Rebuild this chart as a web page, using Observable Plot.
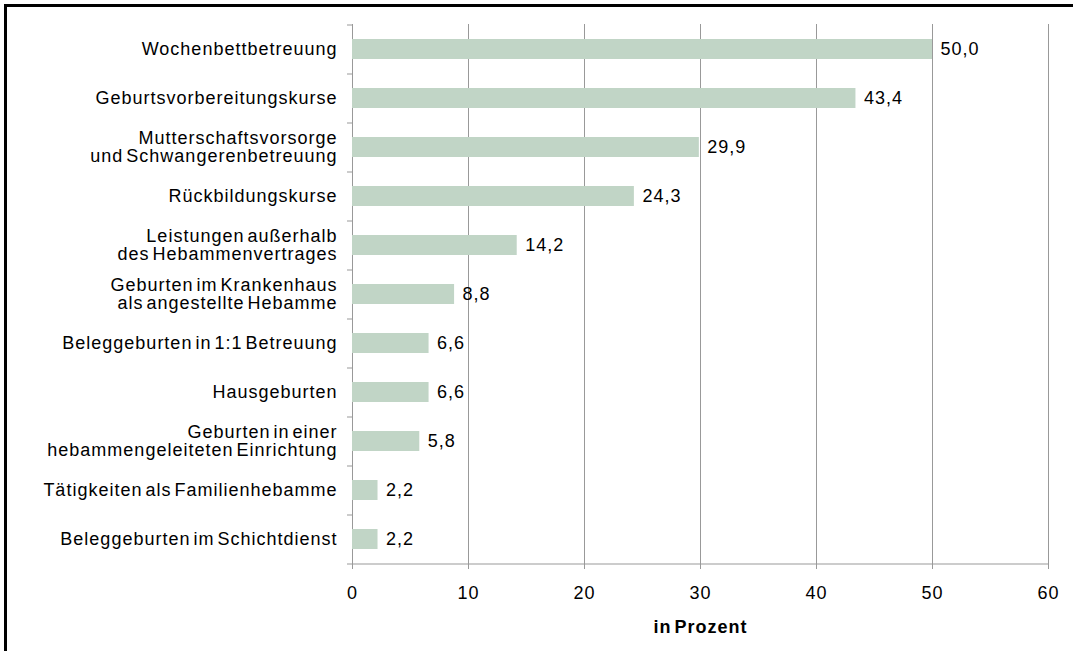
<!DOCTYPE html>
<html>
<head>
<meta charset="utf-8">
<script src="https://cdn.jsdelivr.net/npm/d3@7"></script>
<script src="https://cdn.jsdelivr.net/npm/@observablehq/plot@0.6"></script>
<style>
  html, body { margin: 0; padding: 0; background: #fff; overflow: hidden; }
  #wrap { position: relative; width: 1073px; height: 651px; }
  #frame { position: absolute; left: 4px; top: 4px; width: 1200px; height: 800px;
           border-left: 3px solid #000; border-top: 3px solid #000; }
  #chart { position: absolute; left: 0; top: 0; }
  svg { font-family: "Liberation Sans", Arial, sans-serif; }
</style>
</head>
<body>
<div id="wrap"><div id="frame"></div><div id="chart"></div></div>
<script>
const categories = [
  "Wochenbettbetreuung",
  "Geburtsvorbereitungskurse",
  "Mutterschaftsvorsorge\nund Schwangerenbetreuung",
  "Rückbildungskurse",
  "Leistungen außerhalb\ndes Hebammenvertrages",
  "Geburten im Krankenhaus\nals angestellte Hebamme",
  "Beleggeburten in 1:1 Betreuung",
  "Hausgeburten",
  "Geburten in einer\nhebammengeleiteten Einrichtung",
  "Tätigkeiten als Familienhebamme",
  "Beleggeburten im Schichtdienst"
];
const values = [50.0, 43.4, 29.9, 24.3, 14.2, 8.8, 6.6, 6.6, 5.8, 2.2, 2.2];
const xTicks = [0, 10, 20, 30, 40, 50, 60];
const xLabel = "in Prozent";

const data = categories.map((c, i) => ({category: c, value: values[i]}));
const fmt = v => v.toFixed(1).replace(".", ",");

const W = 1073, H = 651;
const mT = 24, mB = 88, mL = 352, mR = 25;
const half = (H - mT - mB) / categories.length / 2;
const grid = "#999999";
const fs = 18;

const chart = Plot.plot({
  width: W,
  height: H,
  marginTop: mT,
  marginBottom: mB,
  marginLeft: mL,
  marginRight: mR,
  style: {fontFamily: '"Liberation Sans", Arial, sans-serif', fontSize: fs + "px", color: "#000", background: "transparent", letterSpacing: "1px", wordSpacing: "-3px"},
  x: {domain: [0, 60], ticks: xTicks},
  y: {domain: categories, paddingInner: 0.6, paddingOuter: 0.3},
  marks: [
    Plot.gridX(xTicks.slice(1), {stroke: grid, strokeOpacity: 1, strokeWidth: 1}),
    Plot.ruleX([0], {stroke: grid, strokeWidth: 1}),
    Plot.ruleY(categories, {y: d => d, x1: 0, x2: 0, insetLeft: -5, dy: -half, stroke: grid}),
    Plot.ruleY(categories.slice(-1), {y: d => d, x1: 0, x2: 60, insetLeft: -5, dy: half, stroke: grid}),
    Plot.barX(data, {y: "category", x: "value", fill: "#c1d5c6"}),
    Plot.text(data, {y: "category", x: "value", text: d => fmt(d.value), textAnchor: "start", dx: 8, fill: "#000", fontSize: fs}),
    Plot.axisY({tickSize: 0, tickPadding: 15, fontSize: fs, lineHeight: 1.0, fill: "#000", label: null}),
    Plot.axisX(xTicks, {tickSize: 6, tickPadding: 17, stroke: grid, fontSize: fs, fill: "#000", label: null, anchor: "bottom"}),
    Plot.text([xLabel], {frameAnchor: "bottom", dy: 69, text: d => d, fontWeight: "bold", fontSize: fs, fill: "#000"})
  ]
});
document.getElementById("chart").appendChild(chart);
</script>
</body>
</html>
